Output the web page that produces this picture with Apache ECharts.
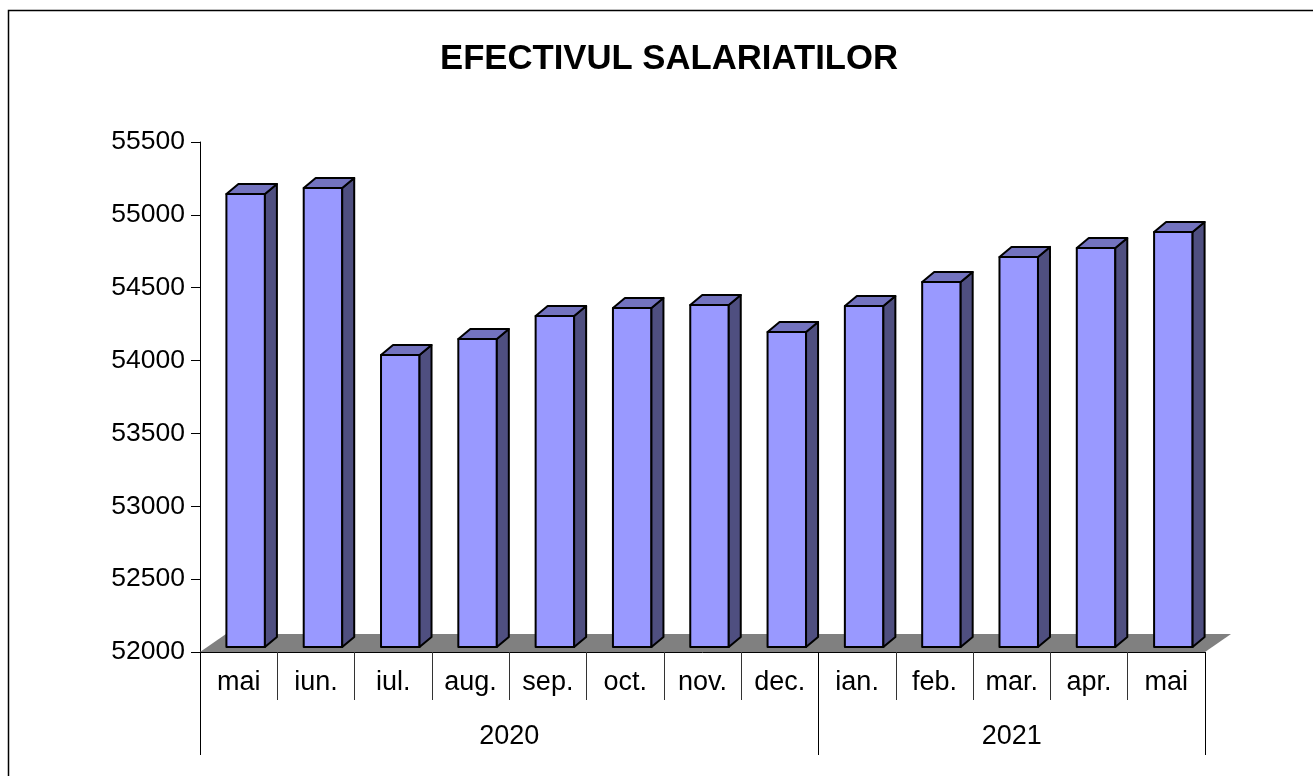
<!DOCTYPE html>
<html>
<head>
<meta charset="utf-8">
<script src="https://cdn.jsdelivr.net/npm/echarts@6/dist/echarts.min.js"></script>
<style>
  html, body { margin: 0; padding: 0; background: #fff; }
  #chart { width: 1313px; height: 776px; }
</style>
</head>
<body>
<div id="chart"></div>
<script>
const months = ["mai", "iun.", "iul.", "aug.", "sep.", "oct.", "nov.", "dec.", "ian.", "feb.", "mar.", "apr.", "mai"];
const values = [55109, 55150, 54004, 54114, 54272, 54327, 54347, 54162, 54340, 54505, 54677, 54738, 54848];
const years = ["2020", "2021"];
const yearCenters = [4, 10.5];
const yearBounds = [0, 8, 13];
const yMin = 52000;
const yMax = 55500;

// fake 3d look of the old excel chart
const depthX = 12, depthY = 10, baseLift = 5, barWidth = 38.5, barShift = 7;
const floorX = 26, floorY = 18;

function renderBar(params, api) {
  const i = api.value(0);
  const top = api.coord([i, api.value(1)]);
  const base = api.coord([i, yMin]);
  const x = top[0] + barShift - barWidth / 2;
  const y = top[1] - baseLift;
  const yb = base[1] - baseLift;
  const stroke = { stroke: "#000", lineWidth: 2, lineJoin: "round" };
  return {
    type: "group",
    children: [
      {
        type: "rect",
        shape: { x: x, y: y, width: barWidth, height: yb - y },
        style: Object.assign({ fill: "#9999ff" }, stroke)
      },
      {
        type: "polygon",
        shape: { points: [[x + barWidth, y], [x + barWidth + depthX, y - depthY], [x + barWidth + depthX, yb - depthY], [x + barWidth, yb]] },
        style: Object.assign({ fill: "#4f4f80" }, stroke)
      },
      {
        type: "polygon",
        shape: { points: [[x, y], [x + depthX, y - depthY], [x + barWidth + depthX, y - depthY], [x + barWidth, y]] },
        style: Object.assign({ fill: "#7373bf" }, stroke)
      }
    ]
  };
}

function renderFloor(params, api) {
  const a = api.coord([0, yMin]);
  const b = api.coord([months.length - 1, yMin]);
  const halfCat = api.size([1, 0])[0] / 2;
  const left = a[0] - halfCat, right = b[0] + halfCat, y = a[1];
  return {
    type: "polygon",
    shape: { points: [[left, y], [left + floorX, y - floorY], [right + floorX, y - floorY], [right, y]] },
    style: { fill: "#808080", stroke: "none" }
  };
}

const chart = echarts.init(document.getElementById("chart"), null, { renderer: "canvas" });
chart.setOption({
  animation: false,
  backgroundColor: "#fff",
  title: {
    text: "EFECTIVUL SALARIATILOR",
    left: 664,
    top: 37,
    textAlign: "center",
    textStyle: { fontFamily: "Liberation Sans", fontSize: 34.7, fontWeight: "bold", color: "#000" }
  },
  graphic: [{
    type: "polyline",
    silent: true,
    z: -1,
    shape: { points: [[8.5, 776], [8.5, 10.5], [1313, 10.5]] },
    style: { fill: "none", stroke: "#000", lineWidth: 1.5 }
  }],
  grid: { left: 200, right: 108, top: 142, bottom: 124 },
  xAxis: [
    {
      type: "category",
      data: months,
      position: "bottom",
      axisLine: { show: true, lineStyle: { color: "#000", width: 1 } },
      axisTick: { show: true, length: 48, alignWithLabel: false, lineStyle: { color: "#333", width: 1 } },
      axisLabel: { show: true, margin: 17, fontFamily: "Liberation Sans", fontSize: 27, color: "#000", interval: 0 }
    },
    {
      type: "value",
      position: "bottom",
      min: 0,
      max: 13,
      axisLine: { show: false },
      splitLine: { show: false },
      axisTick: { show: true, length: 103, customValues: yearBounds, lineStyle: { color: "#000", width: 1 } },
      axisLabel: {
        show: true,
        margin: 71,
        fontFamily: "Liberation Sans",
        fontSize: 27,
        color: "#000",
        customValues: yearCenters,
        formatter: function (v) { return years[yearCenters.indexOf(v)]; }
      }
    }
  ],
  yAxis: {
    type: "value",
    min: yMin,
    max: yMax,
    interval: 500,
    axisLine: { show: true, lineStyle: { color: "#000", width: 1 } },
    axisTick: { show: true, length: 9, lineStyle: { color: "#000", width: 1 } },
    axisLabel: {
      margin: 15,
      fontFamily: "Liberation Sans",
      fontSize: 26.5,
      color: "#000",
      formatter: function (v) { return String(v); }
    },
    splitLine: { show: false }
  },
  series: [
    {
      type: "custom",
      name: "floor",
      renderItem: renderFloor,
      data: [[0, yMin]],
      silent: true,
      z: 1,
      clip: false
    },
    {
      type: "custom",
      name: "EFECTIVUL SALARIATILOR",
      renderItem: renderBar,
      encode: { x: 0, y: 1 },
      data: values.map(function (v, i) { return [i, v]; }),
      z: 2,
      clip: false
    }
  ]
});
</script>
</body>
</html>
